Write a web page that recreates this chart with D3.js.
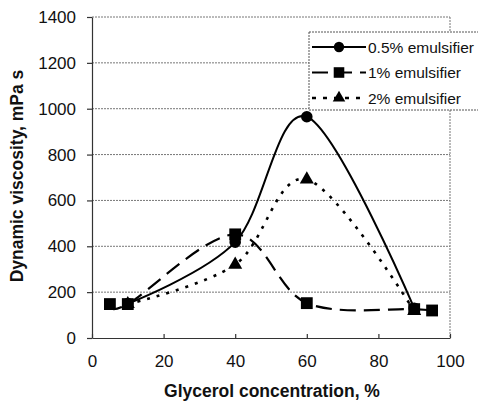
<!DOCTYPE html>
<html><head><meta charset="utf-8">
<script src="https://cdn.jsdelivr.net/npm/d3@7"></script>
<style>body{margin:0;background:#fff}svg{display:block}text{font-family:"Liberation Sans",Arial,sans-serif;fill:#111}</style>
</head><body><svg id="c" width="478" height="406"></svg>
<script>
const xTicks = [0,20,40,60,80,100];
const yTicks = [0,200,400,600,800,1000,1200,1400];
const seriesNames = ["0.5% emulsifier","1% emulsifier","2% emulsifier"];
const x05 = [10,40,60,90];
const y05 = [150,418,965,130];
const x1 = [5,10,40,60,90,95];
const y1 = [148,148,452,152,126,120];
const x2 = [10,40,60,90];
const y2 = [148,320,692,118];

const svg = d3.select("#c");
const L=92, R=450, T=17, B=338;
const x = d3.scaleLinear().domain([0,100]).range([L,R]);
const y = d3.scaleLinear().domain([0,1400]).range([B,T]);

// gridlines
svg.append("g").selectAll("line").data(yTicks.slice(1)).join("line")
  .attr("x1",L).attr("x2",R).attr("y1",d=>y(d)).attr("y2",d=>y(d))
  .attr("stroke","#777").attr("stroke-width",1).attr("stroke-dasharray","2,1");
svg.append("line").attr("x1",R).attr("x2",R).attr("y1",T).attr("y2",B).attr("stroke","#777").attr("stroke-dasharray","2,1");

const ya = svg.append("g").attr("transform",`translate(${L},0)`)
  .call(d3.axisLeft(y).tickValues(yTicks).tickFormat(d3.format("d")).tickSize(5).tickSizeOuter(0).tickPadding(11));
const xa = svg.append("g").attr("transform",`translate(0,${B})`)
  .call(d3.axisBottom(x).tickValues(xTicks).tickFormat(d3.format("d")).tickSize(-4).tickSizeOuter(0).tickPadding(17));
[ya,xa].forEach(a=>{a.selectAll("path,line").attr("stroke","#333").attr("stroke-width",1.2);
  a.selectAll("text").style("font-size","17px").attr("fill","#111").style("font-family","Liberation Sans, Arial, sans-serif");});

svg.append("text").attr("transform",`translate(23,176) rotate(-90)`).attr("text-anchor","middle")
  .style("font-size","17.5px").style("font-weight","bold").text("Dynamic viscosity, mPa s");
svg.append("text").attr("x",272).attr("y",397).attr("text-anchor","middle")
  .style("font-size","17.5px").style("font-weight","bold").text("Glycerol concentration, %");

const line = d3.line().x(d=>x(d[0])).y(d=>y(d[1])).curve(d3.curveCatmullRom.alpha(0));
const styles = [
  {xs:x05, ys:y05, dash:null, w:2, shape:d3.symbolCircle, size:105},
  {xs:x1, ys:y1, dash:"16,8", w:2.2, shape:d3.symbolSquare, size:140},
  {xs:x2, ys:y2, dash:"3,7", w:2.6, shape:d3.symbolTriangle, size:85}
];
const order=[2,0,1];
order.forEach(i=>{
  const s=styles[i];
  const pts=s.xs.map((v,j)=>[v,s.ys[j]]);
  svg.append("path").datum(pts).attr("d",line).attr("fill","none").attr("stroke","#000")
    .attr("stroke-width",s.w).attr("stroke-dasharray",s.dash);
});
order.forEach(i=>{
  const s=styles[i];
  const pts=s.xs.map((v,j)=>[v,s.ys[j]]);
  svg.append("g").selectAll("path").data(pts).join("path")
    .attr("transform",d=>`translate(${x(d[0])},${y(d[1])})`)
    .attr("d",d3.symbol().type(s.shape).size(s.size)).attr("fill","#000");
});

// legend
const lg = svg.append("g");
lg.append("rect").attr("x",309).attr("y",32).attr("width",175).attr("height",78)
  .attr("fill","#fff").attr("stroke","#555").attr("stroke-dasharray","2,1");
styles.forEach((s,i)=>{
  const cy = 47 + i*25.5;
  lg.append("line").attr("x1",312).attr("x2",366).attr("y1",cy).attr("y2",cy)
    .attr("stroke","#000").attr("stroke-width",s.w).attr("stroke-dasharray", i==0?null:(i==1?"16,8":"4,7"));
  lg.append("path").attr("transform",`translate(339,${cy})`)
    .attr("d",d3.symbol().type(s.shape).size(s.size*0.8)).attr("fill","#000");
  lg.append("text").attr("x",368).attr("y",cy+5.5).style("font-size","15.5px").text(seriesNames[i]);
});
</script></body></html>
